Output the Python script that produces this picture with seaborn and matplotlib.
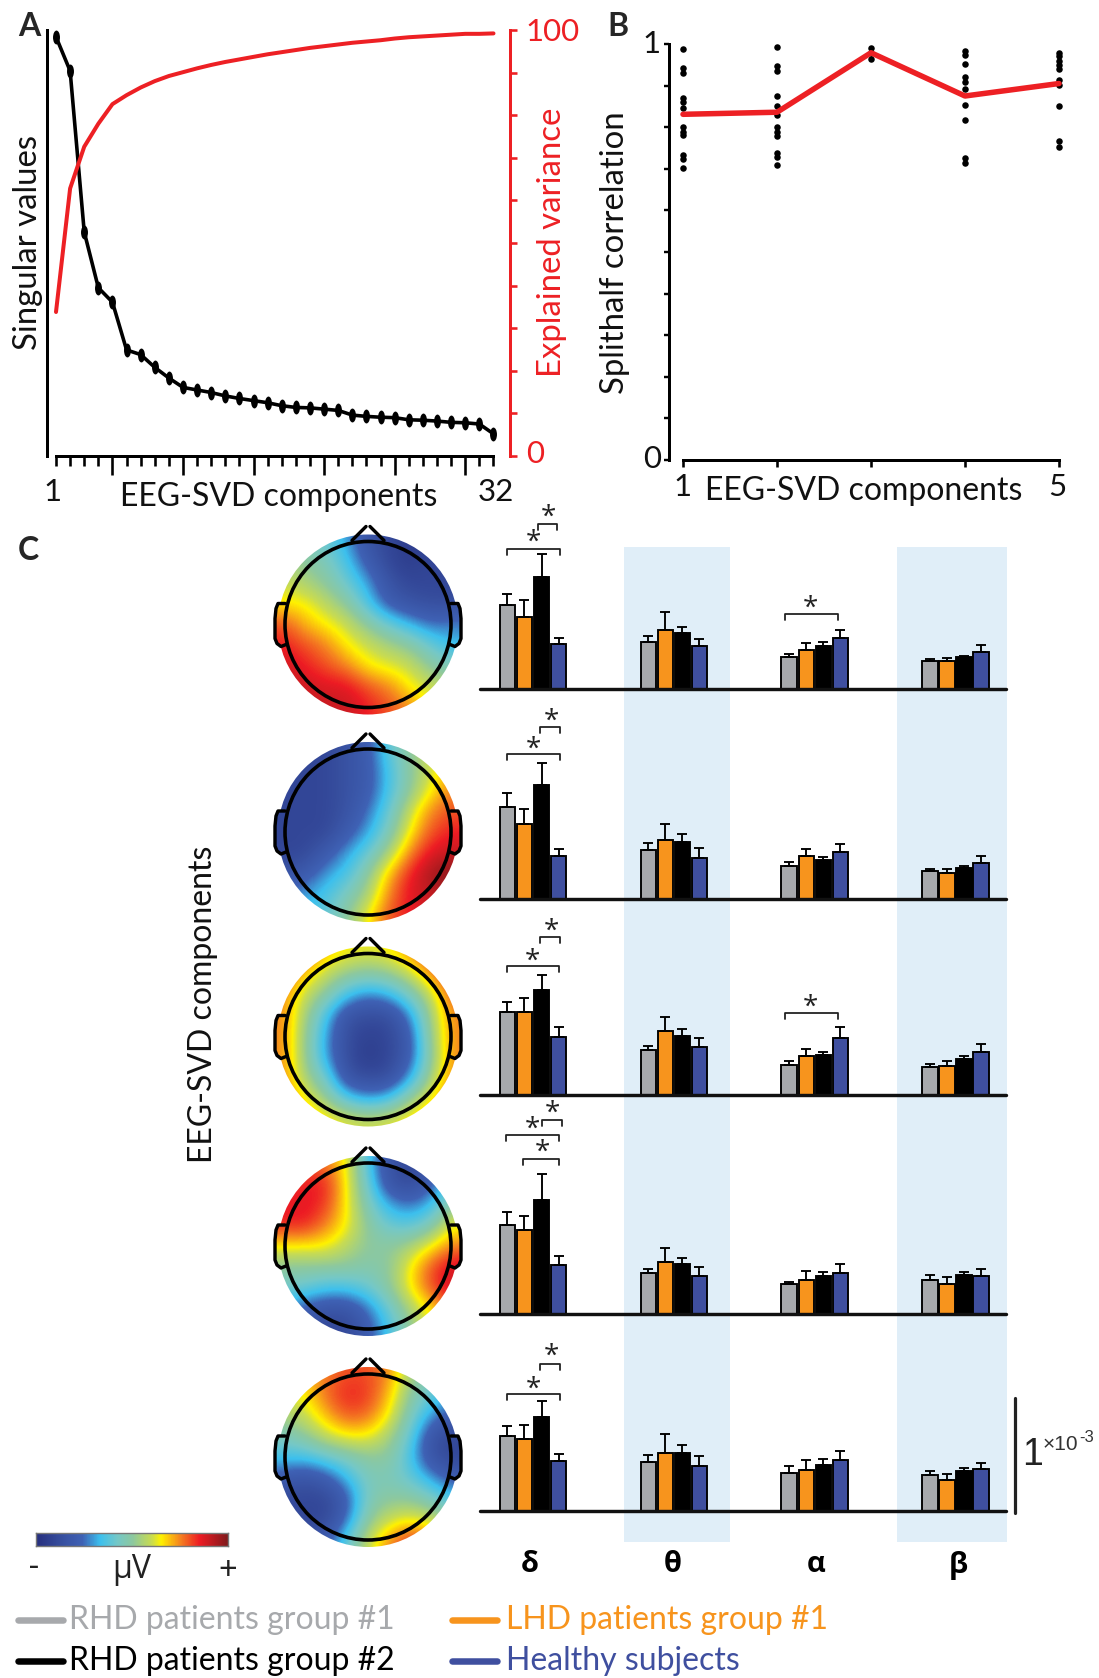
import numpy as np
import pandas as pd
import seaborn as sns
import matplotlib.pyplot as plt
from matplotlib.colors import LinearSegmentedColormap
from matplotlib.patches import Circle, Rectangle
from matplotlib.path import Path
from matplotlib.transforms import Affine2D

# panel A
components = list(range(1, 33))
singular_values = [98.4, 90.4, 52.6, 39.5, 36.1, 24.9, 23.8, 20.8, 18.3, 16.1, 15.5, 14.9, 14.1, 13.5, 13.0, 12.5,
                   11.8, 11.4, 11.3, 11.0, 10.7, 9.6, 9.3, 9.1, 9.0, 8.5, 8.4, 8.2, 7.9, 7.8, 7.5, 5.2]
explained_variance = [33.8, 62.8, 72.6, 78.0, 82.6, 84.7, 86.5, 88.0, 89.2, 90.1, 91.0, 91.8, 92.5, 93.1, 93.7, 94.3,
                      94.8, 95.3, 95.8, 96.2, 96.6, 97.0, 97.3, 97.6, 98.0, 98.3, 98.5, 98.7, 98.9, 99.1, 99.1, 99.2]

# panel B
splithalf_mean = [0.831, 0.836, 0.979, 0.875, 0.905]
splithalf_1 = [.989, .942, .931, .869, .861, .845, .801, .789, .781, .733, .723, .701]
splithalf_2 = [.992, .946, .936, .875, .851, .829, .800, .789, .779, .737, .728, .709]
splithalf_3 = [.990, .978, .963]
splithalf_4 = [.982, .974, .952, .921, .909, .893, .853, .817, .725, .713]
splithalf_5 = [.978, .970, .958, .950, .939, .913, .901, .851, .768, .752]

# panel C, one line per band, order of groups as in the legend
bands = ['δ', 'θ', 'α', 'β']
groups = ['RHD patients group #1', 'LHD patients group #1', 'RHD patients group #2', 'Healthy subjects']
group_colors = ['#a7a9ac', '#f7941d', '#000000', '#3f4f9f']

means_1 = [[.728, .623, .971, .389], [.406, .516, .490, .374], [.278, .342, .374, .441], [.246, .241, .276, .324]]
errs_1 = [[.098, .154, .206, .052], [.052, .150, .050, .063], [.029, .058, .032, .072], [.017, .029, .015, .055]]
means_2 = [[.800, .655, .989, .371], [.423, .516, .498, .359], [.290, .371, .337, .409], [.246, .226, .272, .316]]
errs_2 = [[.122, .128, .194, .067], [.063, .133, .070, .087], [.032, .067, .032, .067], [.017, .037, .011, .055]]
means_3 = [[.719, .719, .916, .507], [.391, .557, .513, .417], [.263, .339, .344, .500], [.245, .249, .315, .375]]
errs_3 = [[.090, .124, .124, .081], [.037, .124, .058, .078], [.036, .057, .030, .090], [.024, .048, .021, .072]]
means_4 = [[.777, .728, .991, .429], [.357, .455, .435, .328], [.257, .297, .332, .357], [.297, .263, .342, .332]]
errs_4 = [[.107, .122, .229, .072], [.037, .119, .052, .084], [.024, .075, .030, .075], [.045, .057, .021, .060]]
means_5 = [[.652, .623, .817, .437], [.423, .507, .504, .391], [.332, .357, .402, .440], [.311, .267, .350, .362]]
errs_5 = [[.090, .122, .139, .061], [.063, .159, .070, .087], [.057, .087, .054, .081], [.036, .051, .024, .057]]

# scalp maps read on a coarse grid, top row first, -10 to 10
topo_1 = [[0, -1, -2, -4, -7, -8, -9, -8, -8],
          [1, 0, -1, -3, -6, -8, -9, -8, -8],
          [2, 1, 0, -2, -4, -7, -8, -8, -8],
          [3, 3, 1.5, 0, -3, -6, -7, -7.5, -7.5],
          [6, 4, 3, 2, 0, -2, -3.6, -5, -4.5],
          [7, 6, 5, 3, 2, 1, 0, -2, -3.6],
          [8, 7, 6, 5, 3, 2.5, 2, 0, -1],
          [8, 8, 7.5, 7.5, 6, 5, 3, 2, 1],
          [8, 8, 8, 8, 7, 6, 5, 3, 2]]
topo_2 = [[-7, -8, -8, -7, -6, -2, 0, 2, 4],
          [-8, -8, -8, -7, -6, -3, 0, 2, 5],
          [-8, -8, -8, -7, -6, -3, 0, 3, 5],
          [-8, -8, -8, -7, -5, -2, 2, 5, 6],
          [-8, -8, -8, -6, -4, -1, 3, 6, 7],
          [-8, -8, -6, -4, -2, 1, 5, 7.5, 8],
          [-7, -6, -4, -3, 0, 4, 7, 9, 10],
          [-5, -4, -3, -1, 1, 5, 7.5, 8, 9],
          [-3, -3, -2, 0, 3, 6, 7, 8, 8]]
topo_3 = [[7, 6, 4, 3, 2.5, 3, 5, 7, 8],
          [6, 4, 2, .5, 0, .5, 2, 5, 7],
          [5, 2, 0, -3, -4.5, -3.5, -1, 2, 6],
          [5, 1, -3, -7, -7.5, -7.5, -4.5, 1, 5],
          [5, .5, -4, -7.5, -8.5, -8, -6, .5, 5],
          [5, .5, -4, -7.5, -9, -8, -6, 0, 5],
          [5, 1, -1.5, -7, -7.5, -7.5, -4, 1, 5],
          [6, 3, .5, -2.5, -4, -3, .5, 3, 6],
          [7, 5, 3.5, 2.5, 2, 2.5, 3.5, 5, 7]]
topo_4 = [[5, 6, 5, 3, -3, -7, -8, -7, -3],
          [6, 7, 7, 3, -2, -7, -8, -6, -2],
          [7, 7.5, 6.5, 3, -1, -4, -5, -3.6, 0],
          [7, 7, 5, 3, 0, -2, -2.5, -1, 3],
          [3, 3, 3, 1.5, 0, 0, 1, 3, 5],
          [0, 0, 0, 0, -.5, 0, 3, 6, 8],
          [-1.5, -2, -3, -3, -2, 0, 3, 6, 8],
          [-4, -6, -7, -7, -5, -2, 1, 3, 6],
          [-6, -7, -8, -8, -6, -3, 0, 3, 5]]
topo_5 = [[3, 4, 5, 6, 6, 5, 1, -1, -3],
          [2, 3, 5.5, 7, 6.5, 4, 0, -2, -4],
          [1, 2, 4, 6, 5.5, 3, -1, -4, -6],
          [-1, 0, 2, 3, 3, 1, -2, -7, -8],
          [-3, -3, -2, -1, 0, 0, -3, -7, -8],
          [-6, -7, -6, -3.5, -1, -1, -2, -4, -6],
          [-8, -8, -8, -6, -1, 0, 0, -1, -3],
          [-7, -8, -8, -5, 0, 2, 3, 2, 0],
          [-6, -7, -6, -2, 2, 5, 7, 6, 3]]

W, H = 1099, 1678
RED = '#ed2024'
BAND_BLUE = '#e0eef8'
GREEK = ['Open Sans', 'DejaVu Sans']
PX = 0.72  # points per pixel at dpi 100
FS = 23
FS_V = 23.7
FS_NUM = 22.5

sns.set_theme(style='white')
plt.rcParams['font.family'] = ['Lato', 'Open Sans', 'DejaVu Sans']

fig = plt.figure(figsize=(W / 100, H / 100), dpi=100)


def ax_px(x0, y0, x1, y1, zorder=1):
    a = fig.add_axes([x0 / W, 1 - y1 / H, (x1 - x0) / W, (y1 - y0) / H], zorder=zorder)
    a.patch.set_visible(False)
    return a


# background bands behind the bars
bg = ax_px(0, 0, W, H, zorder=0)
bg.set_xlim(0, W)
bg.set_ylim(H, 0)
bg.axis('off')
for x0, x1 in [(624, 730), (897, 1007)]:
    bg.add_patch(Rectangle((x0, 547), x1 - x0, 995, color=BAND_BLUE, lw=0))

# overlay for labels and brackets, in pixels
ov = ax_px(0, 0, W, H, zorder=5)
ov.set_xlim(0, W)
ov.set_ylim(H, 0)
ov.axis('off')

# ---------- A ----------
a_x0, a_x1 = 46.5, 510
a_step = (493.5 - 56) / 31
a_xlim = (1 - (56 - a_x0) / a_step, 32 + (a_x1 - 493.5) / a_step)
ax = ax_px(a_x0, 30, a_x1, 456)
ax2 = ax.twinx()
ax2.patch.set_visible(False)
ellipse = Path.unit_circle().transformed(Affine2D().scale(0.5, 1))
sns.lineplot(x=components, y=singular_values, color='black', lw=3.6 * PX, marker=ellipse, markersize=10,
             markeredgewidth=0, ax=ax)
sns.lineplot(x=components, y=explained_variance, color=RED, lw=4 * PX, ax=ax2)
for a in (ax, ax2):
    a.set_xlim(*a_xlim)
    a.set_ylim(0, 100)
    a.set_xlabel('')
    a.set_ylabel('')
    a.spines['top'].set_visible(False)
ax.spines['right'].set_visible(False)
ax.spines['left'].set_linewidth(3 * PX)
ax.spines['left'].set_color('black')
ax.spines['bottom'].set_linewidth(3 * PX)
ax.spines['bottom'].set_color('black')
ax.spines['bottom'].set_bounds(1, 32)
ax.set_yticks([])
ax.set_xticks([5, 10, 15, 20, 25, 30])
ax.set_xticks([c for c in components if c % 5], minor=True)
ax.tick_params(axis='x', which='major', bottom=True, length=19 * PX, width=2.6 * PX, color='black', labelbottom=False)
ax.tick_params(axis='x', which='minor', bottom=True, length=10 * PX, width=2.6 * PX, color='black')
ax2.spines['left'].set_visible(False)
ax2.spines['bottom'].set_visible(False)
ax2.spines['right'].set_linewidth(3 * PX)
ax2.spines['right'].set_color(RED)
ax2.set_yticks(range(0, 101, 10))
ax2.set_yticklabels([])
ax2.tick_params(axis='y', right=True, length=7 * PX, width=2.6 * PX, color=RED)

ov.text(29, 26, 'A', fontsize=23, fontweight='bold', ha='center', va='center')
ov.text(28, 242, 'Singular values', fontsize=FS_V, rotation=90, ha='center', va='center', color='#111111')
ov.text(552, 242, 'Explained variance', fontsize=FS_V, rotation=90, ha='center', va='center', color=RED)
ov.text(553, 32, '100', fontsize=FS_NUM, ha='center', va='center', color=RED)
ov.text(535, 454, '0', fontsize=FS_NUM, ha='center', va='center', color=RED)
ov.text(53, 492, '1', fontsize=FS_NUM, ha='center', va='center', color='#111111')
ov.text(496, 492, '32', fontsize=FS_NUM, ha='center', va='center', color='#111111')
ov.text(279, 497, 'EEG-SVD components', fontsize=FS, ha='center', va='center', color='#111111')

# ---------- B ----------
b_step = (1059 - 683) / 4
bx = ax_px(669, 44, 1062, 460)
strip = pd.DataFrame({
    'component': [1] * len(splithalf_1) + [2] * len(splithalf_2) + [3] * len(splithalf_3)
                 + [4] * len(splithalf_4) + [5] * len(splithalf_5),
    'corr': splithalf_1 + splithalf_2 + splithalf_3 + splithalf_4 + splithalf_5})
sns.scatterplot(data=strip, x='component', y='corr', color='black', s=22, linewidth=0, ax=bx)
sns.lineplot(x=[1, 2, 3, 4, 5], y=splithalf_mean, color=RED, lw=5.5 * PX, ax=bx)
bx.set_xlim(1 - 14 / b_step, 5 + 3 / b_step)
bx.set_ylim(0, 1)
bx.set_xlabel('')
bx.set_ylabel('')
bx.spines['top'].set_visible(False)
bx.spines['right'].set_visible(False)
for s in ('left', 'bottom'):
    bx.spines[s].set_linewidth(3 * PX)
    bx.spines[s].set_color('black')
bx.spines['bottom'].set_bounds(1, 5)
bx.set_xticks([1, 2, 3, 4, 5])
bx.set_yticks(np.arange(0, 1.01, 0.1))
bx.set_xticklabels([])
bx.set_yticklabels([])
bx.tick_params(axis='x', bottom=True, length=7 * PX, width=2.6 * PX, color='black')
bx.tick_params(axis='y', left=True, length=5 * PX, width=2.4 * PX, color='black')

ov.text(618, 26, 'B', fontsize=23, fontweight='bold', ha='center', va='center')
ov.text(615, 253, 'Splithalf correlation', fontsize=FS_V, rotation=90, ha='center', va='center', color='#111111')
ov.text(652, 44, '1', fontsize=FS_NUM, ha='center', va='center', color='#111111')
ov.text(652, 459, '0', fontsize=FS_NUM, ha='center', va='center', color='#111111')
ov.text(683, 487, '1', fontsize=FS_NUM, ha='center', va='center', color='#111111')
ov.text(1057, 487, '5', fontsize=FS_NUM, ha='center', va='center', color='#111111')
ov.text(864, 491, 'EEG-SVD components', fontsize=FS, ha='center', va='center', color='#111111')

# ---------- C bars ----------
band_step = 140.83
band_zero = 533
unit_px = 115  # scale bar height
baselines = [689, 899, 1095, 1314, 1511]
all_means = [means_1, means_2, means_3, means_4, means_5]
all_errs = [errs_1, errs_2, errs_3, errs_4, errs_5]

for base, means, errs in zip(baselines, all_means, all_errs):
    rows = []
    for b, vals in zip(bands, means):
        for g, v in zip(groups, vals):
            rows.append({'band': b, 'group': g, 'value': v})
    df = pd.DataFrame(rows)
    top = 1.4
    c = ax_px(480, base - top * unit_px, 1006, base, zorder=2)
    sns.barplot(data=df, x='band', y='value', hue='group', order=bands, hue_order=groups, palette=group_colors,
                width=0.483, gap=0.1, errorbar=None, edgecolor='black', linewidth=1.9 * PX, legend=False,
                saturation=1, ax=c)
    for i, cont in enumerate(list(c.containers)):
        for j, bar in enumerate(cont.patches):
            c.errorbar(bar.get_x() + bar.get_width() / 2, means[j][i], yerr=[[0], [errs[j][i]]], fmt='none',
                       ecolor='black', elinewidth=1.9 * PX, capsize=5 * PX, capthick=1.9 * PX, zorder=1)
    c.set_xlim((480 - band_zero) / band_step, (1006 - band_zero) / band_step)
    c.set_ylim(0, top)
    c.set_xlabel('')
    c.set_ylabel('')
    c.set_xticks([])
    c.set_yticks([])
    for s in ('top', 'left', 'right'):
        c.spines[s].set_visible(False)
    c.spines['bottom'].set_linewidth(3.4 * PX)
    c.spines['bottom'].set_color('#111111')
    c.spines['bottom'].set_capstyle('round')

for x, b in zip([530, 673, 816, 958], bands):
    ov.text(x, 1565, b, fontsize=21, fontweight='bold', family=GREEK, ha='center', va='center', color='black')


def bracket(x0, x1, y, leg=6, star=None):
    ov.plot([x0, x0, x1, x1], [y + leg, y, y, y + leg], color='#222222', lw=1.8 * PX)
    if star is not None:
        ov.text(star[0], star[1] + 5, '*', fontsize=20, family=GREEK, ha='center', va='center', color='#222222')


bracket(507, 560, 549, star=(533, 538))
bracket(538, 557, 524, star=(548, 513))
bracket(507, 560, 754, star=(533, 745))
bracket(540, 560, 727, star=(551, 717))
bracket(507, 559, 966, star=(532, 957))
bracket(540, 560, 937, star=(551, 927))
bracket(506, 559, 1135, star=(532, 1125))
bracket(542, 562, 1120, star=(552, 1109))
bracket(523, 559, 1159, star=(542, 1148))
bracket(507, 560, 1394, star=(533, 1385))
bracket(540, 560, 1364, star=(551, 1352))
bracket(785, 838, 614, star=(810, 604))
bracket(785, 838, 1013, star=(810, 1003))

# scale bar
ov.plot([1015, 1015], [1398, 1513], color='#222222', lw=3.2 * PX, solid_capstyle='round')
ov.text(1033, 1455, '1', fontsize=27, family='Liberation Sans', ha='center', va='center', color='#222222')
ov.text(1043, 1444, '×10', fontsize=15, family='Liberation Sans', ha='left', va='center', color='#333333')
ov.text(1079, 1438, '-3', fontsize=12, family='Liberation Sans', ha='left', va='center', color='#333333')

ov.text(203, 1004, 'EEG-SVD components', fontsize=FS, rotation=90, ha='center', va='center', color='#111111')
ov.text(28, 551, 'C', fontsize=23, fontweight='bold', ha='center', va='center')

# ---------- C scalp maps ----------
scalp = LinearSegmentedColormap.from_list('scalp', [
    (0.00, '#27307f'), (0.15, '#3953a4'), (0.24, '#3f62b5'), (0.33, '#3cc0ee'), (0.42, '#74c8c8'),
    (0.50, '#8cc8a0'), (0.60, '#c9dc50'), (0.65, '#fff200'), (0.75, '#f58220'), (0.85, '#ed1c24'),
    (1.00, '#7f1a1c')])
centers = [624.5, 832, 1036.5, 1246, 1457]
all_topo = [topo_1, topo_2, topo_3, topo_4, topo_5]
cx = 368
ear_x = [83, 90, 92, 93, 93, 91, 87, 82]
ear_y = [-21, -21, -16, -6, 14, 19, 22, 20]
right_ear = Path(list(zip(ear_x, ear_y)) + [(ear_x[0], ear_y[0])], closed=True)
left_ear = Path(list(zip([-e for e in ear_x[::-1]], ear_y[::-1])) + [(-ear_x[-1], ear_y[-1])], closed=True)
scalp_outline = Path.make_compound_path(Path.circle((0, 0), 90), right_ear, left_ear)
for cy, topo in zip(centers, all_topo):
    t = ax_px(cx - 95, cy - 95, cx + 95, cy + 95, zorder=3)
    im = t.imshow(np.array(topo), cmap=scalp, vmin=-10, vmax=10, interpolation='bicubic', aspect='auto',
                  extent=(-95, 95, 95, -95))
    t.axis('off')
    im.set_clip_path(scalp_outline, transform=t.transData)
    ov.add_patch(Circle((cx, cy), 83, fill=False, edgecolor='black', lw=3.6 * PX))
    ov.plot([cx - 16, cx - 2], [cy - 84, cy - 98], color='black', lw=3.4 * PX, solid_capstyle='round')
    ov.plot([cx + 16, cx + 2], [cy - 84, cy - 98], color='black', lw=3.4 * PX, solid_capstyle='round')
    for side in (-1, 1):
        ov.plot([cx + side * e for e in ear_x], [cy + e for e in ear_y], color='black', lw=3.4 * PX,
                solid_capstyle='round', solid_joinstyle='round')

# colour bar
cb = ax_px(36, 1533, 228, 1546, zorder=3)
cb.imshow(np.linspace(-10, 10, 200).reshape(1, -1), cmap=scalp, vmin=-10, vmax=10, aspect='auto')
cb.set_xticks([])
cb.set_yticks([])
for s in cb.spines.values():
    s.set_color('#777777')
    s.set_linewidth(1)
ov.text(34, 1568, '-', fontsize=23, ha='center', va='center', color='#222222')
ov.text(132, 1570, 'μV', fontsize=23, family=GREEK, ha='center', va='center', color='#222222')
ov.text(228, 1570, '+', fontsize=23, ha='center', va='center', color='#222222')

# legend
legend_pos = [(18, 63, 69, 1620), (452, 497, 506, 1620), (18, 63, 69, 1661), (452, 497, 506, 1661)]
for (x0, x1, tx, y), g, col in zip(legend_pos, groups, group_colors):
    ov.plot([x0, x1], [y, y], color=col, lw=6.5 * PX, solid_capstyle='round')
    ov.text(tx, y, g, fontsize=FS, ha='left', va='center', color=col)

fig.savefig('out.png', dpi=100)
